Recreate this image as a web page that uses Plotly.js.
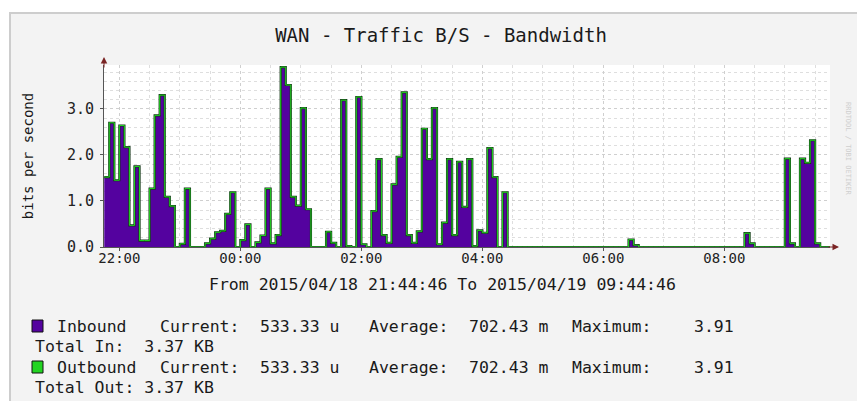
<!DOCTYPE html>
<html>
<head>
<meta charset="utf-8">
<script src="https://cdn.plot.ly/plotly-3.0.1.min.js"></script>
<style>
  html, body { margin: 0; padding: 0; background: #ffffff; width: 857px; height: 401px; overflow: hidden; }
  #frame { position: absolute; left: 9px; top: 12px; width: 848px; height: 389px; box-sizing: border-box;
           background: #f3f3f3; border-left: 2px solid #cdcdcd; border-top: 2px solid #cdcdcd; }
  #chart { position: absolute; left: 11px; top: 14px; width: 846px; height: 387px; }
</style>
</head>
<body>
<div id="frame"></div>
<div id="chart"></div>
<script>
// ---- data (5-minute samples starting 2015-04-18 21:45) ----
const startTime = '2015-04-18T21:45:00';
const stepMinutes = 5;
const rangeStart = '2015-04-18 21:44:46';
const rangeEnd = '2015-04-19 09:44:46';

const inbound = [
  1.52, 2.70, 1.45, 2.64, 2.17, 0.47, 1.75, 0.14, 0.14, 1.27,
  2.86, 3.30, 1.09, 0.89, 0.00, 0.07, 1.27, 0.00, 0.00, 0.00,
  0.08, 0.18, 0.32, 0.35, 0.72, 1.19, 0.00, 0.15, 0.49, 0.00,
  0.10, 0.25, 1.27, 0.08, 0.26, 3.91, 3.52, 1.09, 0.90, 3.02,
  0.82, 0.00, 0.00, 0.00, 0.33, 0.09, 0.00, 3.19, 0.02, 0.00,
  3.26, 0.06, 0.00, 0.78, 1.91, 0.26, 0.09, 1.36, 1.96, 3.36,
  0.26, 0.09, 0.34, 2.57, 1.91, 3.02, 0.06, 0.53, 1.91, 0.26,
  1.85, 0.87, 1.91, 0.02, 0.36, 0.31, 2.15, 1.52, 0.00, 1.19,
  0.00, 0.00, 0.00, 0.00, 0.00, 0.00, 0.00, 0.00, 0.00, 0.00,
  0.00, 0.00, 0.00, 0.00, 0.00, 0.00, 0.00, 0.00, 0.00, 0.00,
  0.00, 0.00, 0.00, 0.00, 0.16, 0.04, 0.00, 0.00, 0.00, 0.00,
  0.00, 0.00, 0.00, 0.00, 0.00, 0.00, 0.00, 0.00, 0.00, 0.00,
  0.00, 0.00, 0.00, 0.00, 0.00, 0.00, 0.00, 0.30, 0.08, 0.00,
  0.00, 0.00, 0.00, 0.00, 0.00, 1.92, 0.08, 0.00, 1.92, 1.83,
  2.32, 0.08, 0.00, 0.00, 0.0005
];
const outbound = [
  1.52, 2.70, 1.45, 2.64, 2.17, 0.47, 1.75, 0.14, 0.14, 1.27,
  2.86, 3.30, 1.09, 0.89, 0.00, 0.07, 1.27, 0.00, 0.00, 0.00,
  0.08, 0.18, 0.32, 0.35, 0.72, 1.19, 0.00, 0.15, 0.49, 0.00,
  0.10, 0.25, 1.27, 0.08, 0.26, 3.91, 3.52, 1.09, 0.90, 3.02,
  0.82, 0.00, 0.00, 0.00, 0.33, 0.09, 0.00, 3.19, 0.02, 0.00,
  3.26, 0.06, 0.00, 0.78, 1.91, 0.26, 0.09, 1.36, 1.96, 3.36,
  0.26, 0.09, 0.34, 2.57, 1.91, 3.02, 0.06, 0.53, 1.91, 0.26,
  1.85, 0.87, 1.91, 0.02, 0.36, 0.31, 2.15, 1.52, 0.00, 1.19,
  0.00, 0.00, 0.00, 0.00, 0.00, 0.00, 0.00, 0.00, 0.00, 0.00,
  0.00, 0.00, 0.00, 0.00, 0.00, 0.00, 0.00, 0.00, 0.00, 0.00,
  0.00, 0.00, 0.00, 0.00, 0.16, 0.04, 0.00, 0.00, 0.00, 0.00,
  0.00, 0.00, 0.00, 0.00, 0.00, 0.00, 0.00, 0.00, 0.00, 0.00,
  0.00, 0.00, 0.00, 0.00, 0.00, 0.00, 0.00, 0.30, 0.08, 0.00,
  0.00, 0.00, 0.00, 0.00, 0.00, 1.92, 0.08, 0.00, 1.92, 1.83,
  2.32, 0.08, 0.00, 0.00, 0.0005
];

const titleText = 'WAN - Traffic B/S - Bandwidth';
const yTitle = 'bits per second';
const xTitle = 'From 2015/04/18 21:44:46 To 2015/04/19 09:44:46';
const seriesNames = ['Inbound', 'Outbound'];
const statLabels = ['Current:', 'Average:', 'Maximum:'];
const inStats = ['533.33 u', '702.43 m', '3.91'];
const outStats = ['533.33 u', '702.43 m', '3.91'];
const totals = ['Total In:\u00a0\u00a03.37 KB', 'Total Out:\u00a03.37 KB'];

// ---- time axis ----
const baseMs = Date.parse(startTime + 'Z');
const times = inbound.map((_, k) => new Date(baseMs + k * stepMinutes * 60000).toISOString().slice(0, 16).replace('T', ' '));

const PURPLE = '#54029f';
const GREEN = '#22d422';
const MONO = 'DejaVu Sans Mono';

// page pixel -> paper coordinates (plot area spans x 104..830, y 65..247 on the page)
const PL = 104, PR = 830, PT = 65, PB = 247;
const px = X => (X - PL) / (PR - PL);
const py = Y => (PB - Y) / (PB - PT);

const traces = [
  { x: times, y: inbound, name: seriesNames[0], type: 'scatter', mode: 'lines',
    line: { shape: 'hv', color: '#17361a', width: 2.2 }, fill: 'tozeroy', fillcolor: PURPLE, hoverinfo: 'x+y' },
  { x: times, y: outbound, name: seriesNames[1], type: 'scatter', mode: 'lines',
    line: { shape: 'hv', color: GREEN, width: 1 }, hoverinfo: 'x+y' }
];

const txt = (X, Y, text, size, extra) => Object.assign({
  xref: 'paper', yref: 'paper', x: px(X), y: py(Y), text: text, showarrow: false,
  xanchor: 'left', yanchor: 'middle', font: { family: MONO, size: size, color: '#1a1a1a' }
}, extra || {});

const rows = [[326, seriesNames[0], inStats], [367, seriesNames[1], outStats]];
const annotations = [];
rows.forEach(([Y, name, st]) => {
  annotations.push(txt(55, Y, name, 16.5));
  annotations.push(txt(158, Y, statLabels[0], 16.5));
  annotations.push(txt(258, Y, st[0], 16.5));
  annotations.push(txt(367, Y, statLabels[1], 16.5));
  annotations.push(txt(467, Y, st[1], 16.5));
  annotations.push(txt(570, Y, statLabels[2], 16.5));
  annotations.push(txt(692, Y, st[2], 16.5));
});
annotations.push(txt(33, 346.5, totals[0], 16.5));
annotations.push(txt(33, 387.5, totals[1], 16.5));
// x-axis caption (centred on the whole graph, as rrdtool does)
annotations.push(txt(442, 284, xTitle, 16.5, { xanchor: 'center' }));
// axis arrows
annotations.push({ xref: 'paper', yref: 'paper', x: px(839), y: 0, ax: -12, ay: 0, axref: 'pixel', ayref: 'pixel',
  text: '', showarrow: true, arrowhead: 2, arrowsize: 1.3, arrowwidth: 1, arrowcolor: '#7a2424' });
annotations.push({ xref: 'paper', yref: 'paper', x: 0, y: py(57), ax: 0, ay: 12, axref: 'pixel', ayref: 'pixel',
  text: '', showarrow: true, arrowhead: 2, arrowsize: 1.3, arrowwidth: 1, arrowcolor: '#7a2424' });
// watermark
annotations.push({ xref: 'paper', yref: 'paper', x: px(854), y: py(100), text: 'RRDTOOL / TOBI OETIKER',
  showarrow: false, textangle: 90, font: { family: MONO, size: 7, color: '#cfcfcf' } });

const shapes = [
  { type: 'rect', xref: 'paper', yref: 'paper', x0: px(32), x1: px(43), y0: py(332), y1: py(320),
    fillcolor: PURPLE, line: { color: '#111', width: 1 } },
  { type: 'rect', xref: 'paper', yref: 'paper', x0: px(32), x1: px(43), y0: py(373), y1: py(361),
    fillcolor: GREEN, line: { color: '#111', width: 1 } }
];

const layout = {
  width: 846, height: 387,
  margin: { l: PL - 11, r: 857 - PR, t: PT - 14, b: 387 - (PB - 14) },
  paper_bgcolor: 'rgba(0,0,0,0)', plot_bgcolor: '#ffffff',
  showlegend: false,
  title: { text: titleText, x: (441 - 11) / 846, xanchor: 'center', y: 1 - (35 - 14) / 387, yanchor: 'middle',
           font: { family: MONO, size: 19, color: '#1a1a1a' } },
  xaxis: {
    type: 'date', range: [rangeStart, rangeEnd],
    tick0: '2015-04-18 22:00', dtick: 7200000, tickformat: '%H:%M',
    showgrid: true, gridcolor: '#cfcfcf', griddash: 'dot', gridwidth: 1,
    minor: { dtick: 1800000, tick0: '2015-04-18 22:00', showgrid: true, gridcolor: '#dedede', griddash: 'dot' },
    showline: true, linecolor: '#555555', linewidth: 1,
    ticks: 'outside', ticklen: 3, tickcolor: '#555555', ticklabelstandoff: -5,
    tickfont: { family: MONO, size: 14, color: '#222' },
    zeroline: false, fixedrange: true
  },
  yaxis: {
    range: [0, 3.955], dtick: 1, tick0: 0, tickformat: '.1f',
    showgrid: true, gridcolor: '#cfcfcf', griddash: 'dot',
    minor: { dtick: 0.2, showgrid: true, gridcolor: '#dedede', griddash: 'dot' },
    showline: true, linecolor: '#555555', linewidth: 1,
    ticks: 'outside', ticklen: 3, tickcolor: '#555555', ticklabelstandoff: 3,
    tickfont: { family: MONO, size: 15, color: '#222' },
    title: { text: yTitle, standoff: 30, font: { family: MONO, size: 14, color: '#1a1a1a' } },
    zeroline: false, fixedrange: true
  },
  annotations: annotations,
  shapes: shapes
};

Plotly.newPlot('chart', traces, layout, { displayModeBar: false, staticPlot: true });
</script>
</body>
</html>
